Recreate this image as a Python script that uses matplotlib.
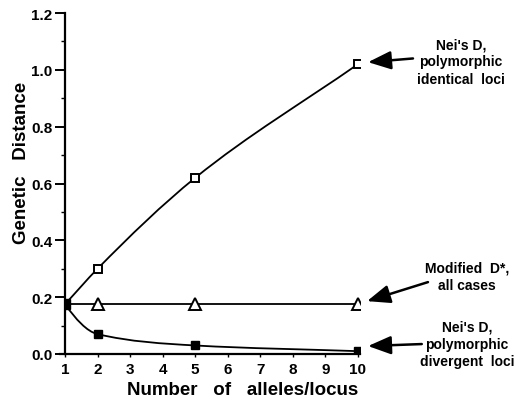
import numpy as np
import matplotlib
matplotlib.use("Agg")
import matplotlib.pyplot as plt
from matplotlib.path import Path
from matplotlib.patches import PathPatch

plt.rcParams['font.family'] = ['Liberation Sans', 'DejaVu Sans']
plt.rcParams['font.weight'] = 'bold'
plt.rcParams['axes.labelweight'] = 'bold'

alleles = [1, 2, 5, 10]
nei_identical = [0.175, 0.30, 0.62, 1.02]
modified_dstar = [0.175, 0.175, 0.175, 0.175]
nei_divergent = [0.175, 0.07, 0.03, 0.01]

x_ticks = list(range(1, 11))
y_ticks = [0.0, 0.2, 0.4, 0.6, 0.8, 1.0, 1.2]
y_tick_labels = ['0.0', '0.2', '0.4', '0.6', '0.8', '1.0', '1.2']

labels = [
    "Nei's D,\npolymorphic\nidentical  loci",
    "Modified  D*,\nall cases",
    "Nei's D,\npolymorphic\ndivergent  loci",
]


def smooth_path(xs, ys):
    # monotone cubic (Fritsch-Carlson) drawn as bezier segments
    xs = np.asarray(xs, float)
    ys = np.asarray(ys, float)
    h = np.diff(xs)
    d = np.diff(ys) / h
    m = np.zeros_like(ys)
    m[0] = d[0]
    m[-1] = d[-1]
    for k in range(1, len(xs) - 1):
        if d[k - 1] * d[k] <= 0:
            m[k] = 0
        else:
            w1 = 2 * h[k] + h[k - 1]
            w2 = h[k] + 2 * h[k - 1]
            m[k] = (w1 + w2) / (w1 / d[k - 1] + w2 / d[k])
    # steeper start for the decaying curve
    if d[0] < 0:
        m[0] = 1.5 * d[0]
    verts = [(xs[0], ys[0])]
    codes = [Path.MOVETO]
    for k in range(len(xs) - 1):
        verts += [(xs[k] + h[k] / 3, ys[k] + m[k] * h[k] / 3),
                  (xs[k + 1] - h[k] / 3, ys[k + 1] - m[k + 1] * h[k] / 3),
                  (xs[k + 1], ys[k + 1])]
        codes += [Path.CURVE4] * 3
    return Path(verts, codes)


fig = plt.figure(figsize=(5.14, 4.02), dpi=100)
ax = fig.add_axes([65 / 514, 47 / 402, 294.6 / 514, 341 / 402])

lw = 1.3
for ys in (nei_identical, nei_divergent):
    ax.add_patch(PathPatch(smooth_path(alleles, ys), fill=False, lw=lw,
                           color='black', zorder=2))
ax.plot(alleles, modified_dstar, color='black', lw=lw, zorder=2)

ax.plot(alleles[1:], nei_identical[1:], ls='none', marker='s', ms=6,
        mfc='white', mec='black', mew=1.4, zorder=3)
ax.plot(alleles[1:], modified_dstar[1:], ls='none', marker='^', ms=8.5,
        mfc='white', mec='black', mew=1.4, zorder=3)
ax.plot(alleles, nei_divergent, ls='none', marker='s', ms=5.5,
        mfc='black', mec='black', zorder=3)
ax.plot(alleles[:1], nei_divergent[:1], ls='none', marker='s', ms=7,
        mfc='black', mec='black', zorder=4)

ax.set_xlim(1, 10.05)
ax.set_ylim(0, 1.2)
ax.spines['top'].set_visible(False)
ax.spines['right'].set_visible(False)
ax.spines['left'].set_linewidth(1.6)
ax.spines['bottom'].set_linewidth(1.6)
ax.spines['bottom'].set_bounds(0.85, 10.05)

ax.set_xticks(x_ticks)
ax.set_yticks(y_ticks)
ax.set_yticklabels(y_tick_labels)
ax.set_yticks(np.arange(0.1, 1.2, 0.2), minor=True)
ax.tick_params(axis='y', which='major', direction='out', length=7, width=1.4,
               labelsize=11, pad=2)
ax.tick_params(axis='y', which='minor', direction='out', length=3, width=1)
ax.tick_params(axis='x', direction='out', length=2, width=1, labelsize=11,
               pad=4)

ax.set_xlabel('Number   of   alleles/locus', fontsize=13.5, va='center')
ax.set_ylabel('Genetic   Distance', fontsize=13.5, va='center')
ax.xaxis.set_label_coords(0.604, -0.103)
ax.yaxis.set_label_coords(-0.146, 0.563)

# arrows pointing at the last markers
arrow_tips = [(10.31, 1.027), (10.28, 0.186), (10.31, 0.028)]
arrow_tails = [(11.69, 1.04), (12.15, 0.253), (11.96, 0.035)]
for tip, tail in zip(arrow_tips, arrow_tails):
    ax.annotate('', xy=tip, xytext=tail, xycoords='data',
                arrowprops=dict(arrowstyle='-|>,head_length=1.0,head_width=0.4',
                                color='black', lw=1.8, mutation_scale=14,
                                shrinkA=0, shrinkB=0),
                annotation_clip=False)

text_pos = [(13.16, 1.03), (13.35, 0.273), (13.35, 0.035)]
for txt, (tx, ty) in zip(labels, text_pos):
    ax.text(tx, ty, txt, ha='center', va='center', fontsize=10,
            linespacing=1.3, clip_on=False)

fig.savefig('out.png', dpi=100)
